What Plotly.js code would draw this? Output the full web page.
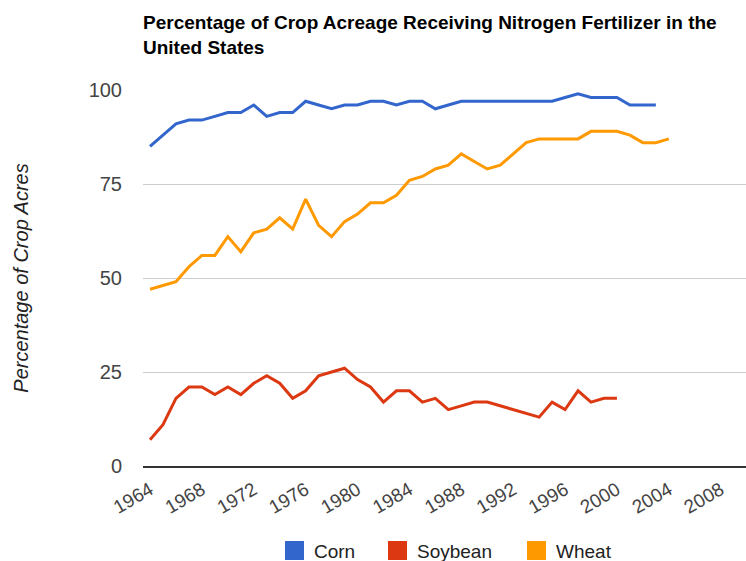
<!DOCTYPE html>
<html>
<head>
<meta charset="utf-8">
<script src="https://cdn.plot.ly/plotly-3.0.1.min.js"></script>
<style>
  html, body { margin: 0; padding: 0; background: #fff; }
  #chart { width: 746px; height: 561px; }
</style>
</head>
<body>
<div id="chart"></div>
<script>
// ---- data ----
const years = [1964,1965,1966,1967,1968,1969,1970,1971,1972,1973,1974,1975,1976,1977,1978,1979,
  1980,1981,1982,1983,1984,1985,1986,1987,1988,1989,1990,1991,1992,1993,1994,1995,1996,1997,
  1998,1999,2000,2001,2002,2003,2004];
const corn = [85,88,91,92,92,93,94,94,96,93,94,94,97,96,95,96,
  96,97,97,96,97,97,95,96,97,97,97,97,97,97,97,97,98,99,
  98,98,98,96,96,96,null];
const soybean = [7,11,18,21,21,19,21,19,22,24,22,18,20,24,25,26,
  23,21,17,20,20,17,18,15,16,17,17,16,15,14,13,17,15,20,
  17,18,18,null,null,null,null];
const wheat = [47,48,49,53,56,56,61,57,62,63,66,63,71,64,61,65,
  67,70,70,72,76,77,79,80,83,81,79,80,83,86,87,87,87,87,
  89,89,89,88,86,86,87];
const seriesNames = ['Corn','Soybean','Wheat'];
const seriesColors = ['#3366cc','#dc3912','#ff9900'];
const xTickVals = [1964,1968,1972,1976,1980,1984,1988,1992,1996,2000,2004,2008];
const xTickText = ['1964','1968','1972','1976','1980','1984','1988','1992','1996','2000','2004','2008'];
const yTickVals = [0,25,50,75,100];
const yTickText = ['0','25','50','75','100'];

// ---- layout geometry (pixels) ----
const W = 746, H = 561;
const M = {l: 143, r: 0, t: 90, b: 95};
const PW = W - M.l - M.r, PH = H - M.t - M.b;
const px = x => (x - M.l) / PW;          // pixel x -> paper x
const py = y => (H - M.b - y) / PH;       // pixel y -> paper y

const seriesData = [corn, soybean, wheat];
const traces = seriesNames.map((name, i) => ({
  type: 'scatter', mode: 'lines', name: name,
  x: years, y: seriesData[i],
  line: {color: seriesColors[i], width: 3},
  connectgaps: false,
  showlegend: false,
  hoverinfo: 'x+y+name'
}));

// custom legend (squares + labels)
const legendSquareX = [285, 388, 527];
const shapes = [], annotations = [];
seriesNames.forEach((name, i) => {
  shapes.push({type: 'rect', xref: 'paper', yref: 'paper',
    x0: px(legendSquareX[i]), x1: px(legendSquareX[i] + 19),
    y0: py(560), y1: py(541),
    fillcolor: seriesColors[i], line: {width: 0}});
  annotations.push({xref: 'paper', yref: 'paper', x: px(legendSquareX[i] + 27), y: py(551),
    xanchor: 'left', yanchor: 'middle', showarrow: false, text: name,
    font: {family: 'Liberation Sans, Arial, sans-serif', size: 19, color: '#222'}});
});

const layout = {
  width: W, height: H,
  margin: M,
  paper_bgcolor: '#fff', plot_bgcolor: '#fff',
  font: {family: 'Liberation Sans, Arial, sans-serif', color: '#444'},
  title: {
    text: 'Percentage of Crop Acreage Receiving Nitrogen Fertilizer in the<br>United States',
    font: {family: 'Liberation Sans, Arial, sans-serif', size: 19, color: '#000', weight: 'bold'},
    xref: 'paper', x: 0, xanchor: 'left',
    yref: 'container', y: 1 - 29 / H, yanchor: 'top'
  },
  xaxis: {
    range: [1963.46, 2009.95],
    tickmode: 'array', tickvals: xTickVals, ticktext: xTickText,
    tickangle: -30,
    tickfont: {size: 19, color: '#444'},
    showgrid: false, zeroline: false,
    showline: true, linecolor: '#333', linewidth: 1.5,
    ticks: '', ticklabelstandoff: 4,
    fixedrange: true
  },
  yaxis: {
    range: [0, 100],
    tickmode: 'array', tickvals: yTickVals, ticktext: yTickText,
    tickfont: {size: 20, color: '#444'},
    showgrid: true, gridcolor: '#cccccc', gridwidth: 1,
    zeroline: false, showline: false, ticks: '',
    ticklabelstandoff: 20,
    title: {text: 'Percentage of Crop Acres', standoff: 54,
      font: {family: 'Liberation Sans, Arial, sans-serif', size: 20, color: '#222', style: 'italic'}},
    fixedrange: true
  },
  shapes: shapes,
  annotations: annotations,
  showlegend: false
};

Plotly.newPlot('chart', traces, layout, {displayModeBar: false, staticPlot: true});
</script>
</body>
</html>
